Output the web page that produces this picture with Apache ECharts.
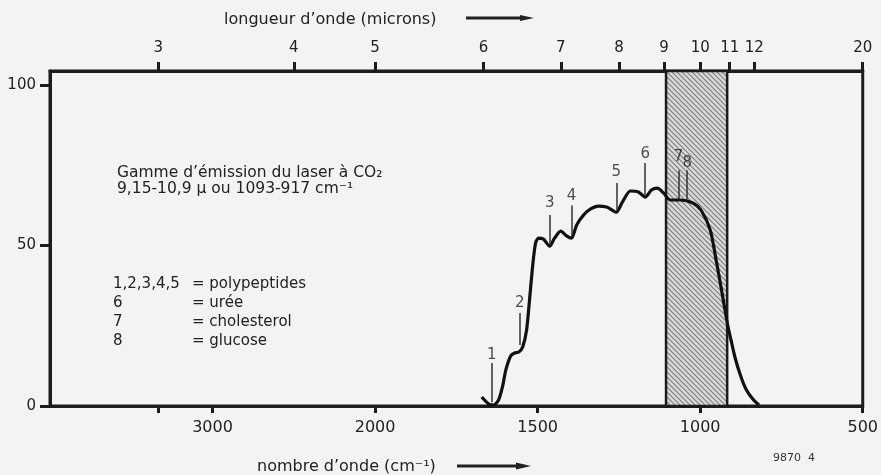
<!DOCTYPE html>
<html>
<head>
<meta charset="utf-8">
<script src="https://cdn.jsdelivr.net/npm/echarts@6/dist/echarts.min.js"></script>
<style>
  html, body { margin: 0; padding: 0; background: #f3f3f1; }
  #spectre { width: 881px; height: 475px; }
</style>
</head>
<body>
<div id="spectre"></div>
<script>
// absorption curve, wavenumber (cm-1) / value
var curveNu  = [1672,1650,1635,1620,1607,1598,1583,1571,1558,1546,1534,1525,1515,1506,1497,1482,1463,1448,1429,1411,
                1396,1380,1359,1337,1313,1288,1270,1258,1239,1215,1190,1169,1150,1132,1113,1092,1061,1021,997,969,
                951,936,923,914,905,893,877,859,837,819];
var curveAbs = [2.8,0.6,0.3,1.9,6.5,11.2,15.6,16.5,16.8,18.4,23.7,33,44,51,52.3,52,49.8,52.3,54.5,53,
                52.3,56.4,59.5,61.4,62.3,62,61,60.4,63.6,67,66.7,65.1,67.3,67.9,66.4,64.2,64.2,63.2,61,54.8,
                45.5,37.1,29.5,24.5,20.5,15.2,9.8,5.2,2.0,0.3];

// numbered bands
var markerNames  = ['1','2','3','4','5','6','7','8'];
var markerNu     = [1641,1555,1463,1396,1258,1169,1067,1040];
var markerLow    = [1.2,19.0,50.2,53.3,61.1,65.7,64.5,64.5];
var markerHigh   = [13.4,29.0,59.5,62.5,69.5,75.7,73.5,73.5];
var markerLabelY = [16.0,32.1,63.2,65.4,72.9,78.5,77.6,75.8];

// axes
var bottomTicks = [3333,3000,2000,1500,1000,500];
var bottomLabels = [3000,2000,1500,1000,500];
var topMicrons = [3,4,5,6,7,8,9,10,11,12,20];
var yTicks = [0,50,100];

// CO2 laser band (cm-1)
var laserBand = [1105, 917];

// chart paper: scale halves above 2000 cm-1
function sc(nu) { return nu <= 2000 ? nu : 2000 + (nu - 2000) / 2; }
function unsc(s) { return s <= 2000 ? s : 2000 + (s - 2000) * 2; }

var FONT = 'DejaVu Sans';
var INK = '#1c1c1c';

var hatch = document.createElement('canvas');
hatch.width = 5; hatch.height = 5;
var hc = hatch.getContext('2d');
hc.fillStyle = '#dadada';
hc.fillRect(0, 0, 5, 5);
hc.strokeStyle = '#7c7c7c';
hc.lineWidth = 1.1;
hc.beginPath();
hc.moveTo(0, 0); hc.lineTo(5, 5);
hc.moveTo(-1, 4); hc.lineTo(1, 6);
hc.moveTo(4, -1); hc.lineTo(6, 1);
hc.stroke();

var curveData = curveNu.map(function (nu, i) { return [sc(nu), curveAbs[i]]; });
var markerLines = markerNu.map(function (nu, i) {
    return [{ coord: [sc(nu), markerLow[i]] }, { coord: [sc(nu), markerHigh[i]] }];
});
var markerText = markerNu.map(function (nu, i) {
    return { value: [sc(nu), markerLabelY[i]], name: markerNames[i] };
});

var dom = document.getElementById('spectre');
var myChart = echarts.init(dom);
var option = {
    backgroundColor: '#f3f3f1',
    animation: false,
    grid: {
        left: 50, right: 16, top: 71, bottom: 69,
        show: true, borderColor: INK, borderWidth: 3
    },
    xAxis: [{
        type: 'value', position: 'bottom', inverse: true,
        min: 500, max: 3000,
        splitLine: { show: false },
        axisLine: { lineStyle: { color: INK, width: 3 } },
        axisTick: { customValues: bottomTicks.map(sc), length: 7, lineStyle: { color: INK, width: 3 } },
        axisLabel: {
            customValues: bottomLabels.map(sc), margin: 14,
            fontFamily: FONT, fontSize: 16, color: '#222',
            formatter: function (v) { return Math.round(unsc(v)); }
        }
    }, {
        type: 'value', position: 'top', inverse: true,
        min: 500, max: 3000,
        splitLine: { show: false },
        axisLine: { lineStyle: { color: INK, width: 3 } },
        axisTick: { customValues: topMicrons.map(function (l) { return sc(10000 / l); }), length: 9, lineStyle: { color: INK, width: 3 } },
        axisLabel: {
            customValues: topMicrons.map(function (l) { return sc(10000 / l); }), margin: 15,
            fontFamily: FONT, fontSize: 15, color: '#222',
            formatter: function (v) { return Math.round(10000 / unsc(v)); }
        }
    }],
    yAxis: {
        type: 'value', min: 0, max: 104.4,
        splitLine: { show: false },
        axisLine: { show: true, lineStyle: { color: INK, width: 3 } },
        axisTick: { customValues: yTicks, length: 10, lineStyle: { color: INK, width: 3 } },
        axisLabel: { customValues: yTicks, margin: 14, fontFamily: FONT, fontSize: 15, color: '#222' }
    },
    series: [{
        type: 'line', data: [], z: 1,
        markArea: {
            silent: true,
            itemStyle: { color: { image: hatch, repeat: 'repeat' }, borderColor: INK, borderWidth: 2.5 },
            data: [[{ xAxis: sc(laserBand[0]) }, { xAxis: sc(laserBand[1]) }]]
        }
    }, {
        type: 'line', data: curveData, z: 4,
        smooth: 0.25, showSymbol: false,
        lineStyle: { color: '#111', width: 3.2 }
    }, {
        type: 'line', data: [], z: 3,
        markLine: {
            silent: true, symbol: 'none',
            lineStyle: { color: '#333', width: 1.5, type: 'solid' },
            label: { show: false },
            data: markerLines
        }
    }, {
        type: 'scatter', data: markerText, z: 5,
        symbolSize: 0,
        label: {
            show: true, position: 'inside',
            formatter: '{b}', fontFamily: FONT, fontSize: 15, color: '#222'
        }
    }],
    graphic: [
        { type: 'text', x: 224, y: 20, style: { text: 'longueur d’onde (microns)', font: '16px "DejaVu Sans"', fill: '#222', textAlign: 'left', textVerticalAlign: 'middle' } },
        { type: 'line', shape: { x1: 466, y1: 18, x2: 524, y2: 18 }, style: { stroke: '#222', lineWidth: 3 } },
        { type: 'polygon', shape: { points: [[520, 15], [534, 18], [520, 21]] }, style: { fill: '#222' } },
        { type: 'text', x: 257, y: 467, style: { text: 'nombre d’onde (cm⁻¹)', font: '16px "DejaVu Sans"', fill: '#222', textAlign: 'left', textVerticalAlign: 'middle' } },
        { type: 'line', shape: { x1: 457, y1: 466, x2: 520, y2: 466 }, style: { stroke: '#222', lineWidth: 3 } },
        { type: 'polygon', shape: { points: [[516, 462.5], [531, 466], [516, 469.5]] }, style: { fill: '#222' } },
        { type: 'text', x: 773, y: 458, style: { text: '9870  4', font: '11px "DejaVu Sans"', fill: '#333', textAlign: 'left', textVerticalAlign: 'middle' } },
        { type: 'text', x: 117, y: 173, style: { text: 'Gamme d’émission du laser à CO₂', font: '15.5px "DejaVu Sans"', fill: '#222', textAlign: 'left', textVerticalAlign: 'middle' } },
        { type: 'text', x: 117, y: 189, style: { text: '9,15-10,9 μ ou 1093-917 cm⁻¹', font: '15.5px "DejaVu Sans"', fill: '#222', textAlign: 'left', textVerticalAlign: 'middle' } },
        { type: 'text', x: 113, y: 275, style: { text: '1,2,3,4,5\n6\n7\n8', font: '15px "DejaVu Sans"', lineHeight: 19, fill: '#222', textAlign: 'left', textVerticalAlign: 'top' } },
        { type: 'text', x: 192, y: 275, style: { text: '= polypeptides\n= urée\n= cholesterol\n= glucose', font: '15px "DejaVu Sans"', lineHeight: 19, fill: '#222', textAlign: 'left', textVerticalAlign: 'top' } },
        { type: 'text', x: 703, y: 342, rotation: Math.PI / 2, style: { text: 'CO₂ — Laser', font: '15px "DejaVu Sans"', fill: '#222', textAlign: 'center', textVerticalAlign: 'middle' } }
    ]
};
if (option && typeof option === 'object') {
    myChart.setOption(option, true);
}
</script>
</body>
</html>
